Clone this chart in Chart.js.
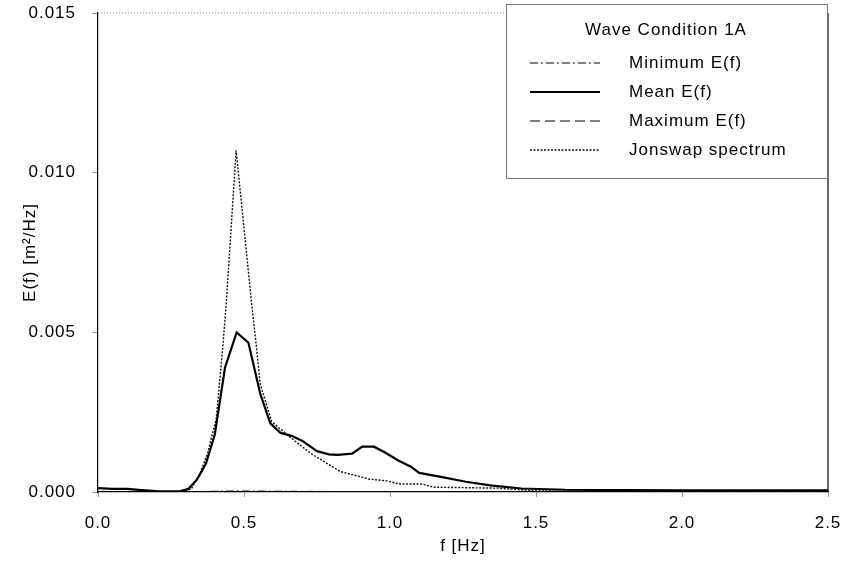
<!DOCTYPE html>
<html>
<head>
<meta charset="utf-8">
<script src="https://cdn.jsdelivr.net/npm/chart.js@4.4.1/dist/chart.umd.min.js"></script>
<style>
  body { margin: 0; background: #fff; }
  #wrap { width: 846px; height: 561px; }
</style>
</head>
<body>
<div id="wrap"><canvas id="myChart" width="846" height="561"></canvas></div>
<script>
// spectra
const meanFreq = [0, 0.05, 0.1, 0.15, 0.2, 0.25, 0.28, 0.31, 0.34, 0.37, 0.4, 0.435, 0.475, 0.515, 0.555, 0.59, 0.625, 0.665, 0.7, 0.75, 0.79, 0.82, 0.87, 0.905, 0.945, 0.98, 1.03, 1.07, 1.1, 1.17, 1.26, 1.35, 1.45, 1.6, 1.8, 2.0, 2.2, 2.5];
const meanE = [0.00012, 0.0001, 0.0001, 0.00006, 0.00003, 0.00002, 0.00002, 0.0001, 0.0004, 0.0009, 0.0018, 0.0039, 0.0050, 0.00468, 0.0031, 0.00215, 0.00185, 0.00175, 0.0016, 0.00128, 0.00118, 0.00116, 0.0012, 0.00142, 0.00142, 0.00125, 0.00098, 0.0008, 0.0006, 0.00048, 0.00032, 0.0002, 0.00011, 0.00007, 0.00006, 0.00005, 0.00005, 0.00005];

const jonswapFreq = [0, 0.29, 0.32, 0.35, 0.375, 0.405, 0.427, 0.44, 0.473, 0.525, 0.543, 0.555, 0.595, 0.66, 0.73, 0.83, 0.93, 0.99, 1.03, 1.11, 1.15, 1.37, 1.5, 2.5];
const jonswapE = [0, 0, 0.0001, 0.0006, 0.0012, 0.0023, 0.0045, 0.006, 0.0107, 0.006, 0.0045, 0.0034, 0.0022, 0.0017, 0.0012, 0.00064, 0.0004, 0.00035, 0.00025, 0.00025, 0.00015, 0.00012, 0.00003, 0.00001];

const minFreq = [0, 0.3, 0.45, 0.5, 0.7, 1.0, 1.5, 2.5];
const minE = [0.00002, 0.00001, 0.00003, 0.00003, 0.00002, 0.00001, 0.00001, 0.00001];

const maxFreq = [];
const maxE = [];

const xTicks = [0, 0.5, 1.0, 1.5, 2.0, 2.5];
const yTicks = [0, 0.005, 0.010, 0.015];

function pts(xs, ys) {
    return xs.map((x, i) => ({ x: x, y: ys[i] }));
}

const FONT = 'Liberation Sans, Arial, sans-serif';
const SIZE = 17;

// the scanned lettering is quite spread out
const spacing = {
    id: 'spacing',
    beforeLayout(chart) { chart.ctx.letterSpacing = '1px'; },
    beforeDraw(chart) { chart.ctx.letterSpacing = '1px'; }
};

const legendBox = {
    id: 'legendBox',
    afterDraw(chart) {
        const ctx = chart.ctx;
        const a = chart.chartArea;
        ctx.save();
        // frame: right side solid, top dotted
        ctx.strokeStyle = '#000';
        ctx.lineWidth = 1.2;
        ctx.beginPath();
        ctx.moveTo(a.right, a.top);
        ctx.lineTo(a.right, a.bottom);
        ctx.stroke();
        ctx.strokeStyle = '#888';
        ctx.lineWidth = 1;
        ctx.setLineDash([1, 2]);
        ctx.beginPath();
        ctx.moveTo(a.left, a.top);
        ctx.lineTo(a.right, a.top);
        ctx.stroke();
        ctx.setLineDash([]);

        // legend box
        const bx = 506, by = 4, bw = a.right - 506, bh = 174;
        ctx.fillStyle = '#fff';
        ctx.fillRect(bx, by, bw, bh);
        ctx.strokeStyle = '#777';
        ctx.lineWidth = 1;
        ctx.strokeRect(bx + 0.5, by + 0.5, bw - 1, bh);
        ctx.fillStyle = '#000';
        ctx.letterSpacing = '1px';
        ctx.font = SIZE + 'px ' + FONT;
        ctx.textAlign = 'center';
        ctx.textBaseline = 'middle';
        ctx.fillText('Wave Condition 1A', 666, 30);
        const rows = [63, 92, 121, 150];
        ctx.textAlign = 'left';
        chart.data.datasets.forEach((ds, i) => {
            const y = rows[i];
            ctx.strokeStyle = ds.borderColor;
            ctx.lineWidth = ds.borderWidth;
            ctx.setLineDash(ds.borderDash || []);
            ctx.beginPath();
            ctx.moveTo(530, y);
            ctx.lineTo(600, y);
            ctx.stroke();
            ctx.setLineDash([]);
            ctx.fillText(ds.label, 629, y);
        });
        ctx.restore();
    }
};

const ctx = document.getElementById('myChart').getContext('2d');
const chart = new Chart(ctx, {
    type: 'line',
    data: {
        datasets: [{
            label: 'Minimum E(f)',
            data: pts(minFreq, minE),
            borderColor: '#000',
            borderWidth: 1,
            borderDash: [8, 3, 2, 3]
        }, {
            label: 'Mean E(f)',
            data: pts(meanFreq, meanE),
            borderColor: '#000',
            borderWidth: 2.2
        }, {
            label: 'Maximum E(f)',
            data: pts(maxFreq, maxE),
            borderColor: '#000',
            borderWidth: 1.2,
            borderDash: [10, 5]
        }, {
            label: 'Jonswap spectrum',
            data: pts(jonswapFreq, jonswapE),
            borderColor: '#111',
            borderWidth: 1.4,
            borderDash: [2, 1.5]
        }]
    },
    options: {
        responsive: false,
        animation: false,
        elements: { point: { radius: 0 }, line: { tension: 0 } },
        layout: { padding: { top: 13, right: 18, left: 20, bottom: 0 } },
        plugins: { legend: { display: false }, tooltip: { enabled: false } },
        scales: {
            x: {
                type: 'linear',
                min: 0, max: 2.5,
                afterFit(s) { s.height = 69; s.paddingLeft = 0; s.paddingRight = 0; },
                afterBuildTicks(s) { s.ticks = xTicks.map(v => ({ value: v })); },
                ticks: {
                    color: '#000',
                    font: { family: FONT, size: SIZE },
                    padding: 16,
                    maxRotation: 0,
                    callback: v => v.toFixed(1)
                },
                grid: { drawOnChartArea: false, tickLength: 5, color: '#999' },
                border: { color: '#000', width: 1.2 },
                title: {
                    display: true, text: 'f [Hz]', color: '#000',
                    font: { family: FONT, size: SIZE }, padding: { top: 6 }
                }
            },
            y: {
                min: 0, max: 0.015,
                afterFit(s) { s.width = 78; s.paddingTop = 0; s.paddingBottom = 0; },
                afterBuildTicks(s) { s.ticks = yTicks.map(v => ({ value: v })); },
                ticks: {
                    color: '#000',
                    font: { family: FONT, size: SIZE },
                    padding: 16,
                    callback: v => v.toFixed(3)
                },
                grid: { drawOnChartArea: false, tickLength: 6, color: '#999' },
                border: { color: '#000', width: 1.2 },
                title: {
                    display: true, text: 'E(f) [m²/Hz]', color: '#000',
                    font: { family: FONT, size: SIZE }, padding: { top: 0, bottom: 0 }
                }
            }
        }
    },
    plugins: [spacing, legendBox]
});
</script>
</body>
</html>
